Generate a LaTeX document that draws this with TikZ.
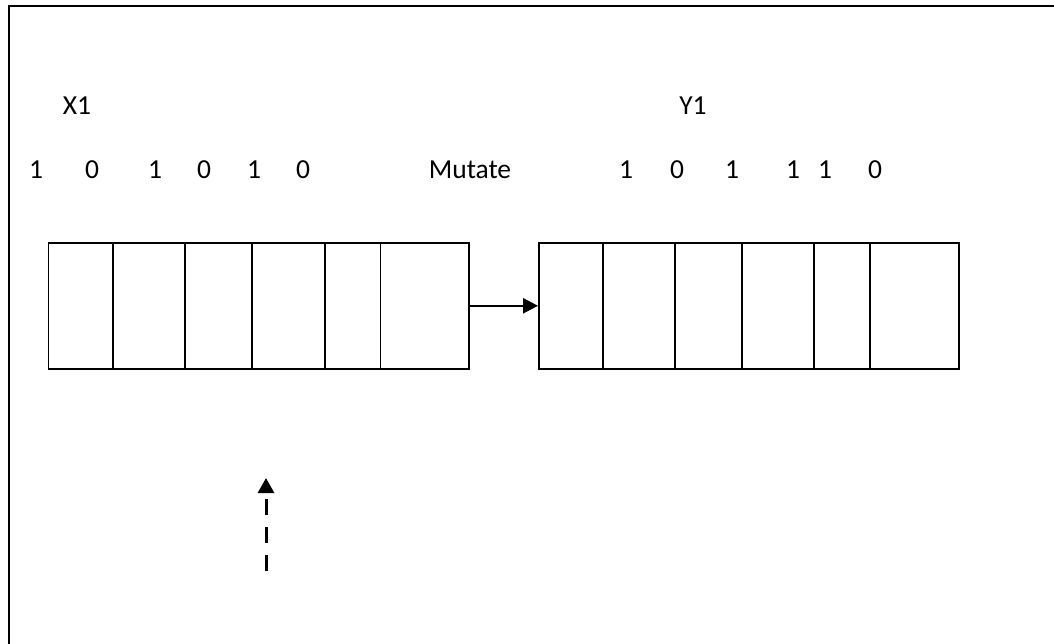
\documentclass[tikz,border=0pt]{standalone}
\usepackage{fontspec}
\setmainfont{Carlito}
\usetikzlibrary{arrows.meta}
\begin{document}
\begin{tikzpicture}[x=1pt,y=-1pt,
  cell/.style={draw, line width=1.6pt, minimum height=126pt, inner sep=0pt, anchor=north west},
  lbl/.style={anchor=base, inner sep=0pt, font=\fontsize{27.5}{32}\selectfont},
  frame/.style={draw, line width=1.6pt}]
\useasboundingbox (0,0) rectangle (1054,643);
\clip (0,0) rectangle (1054,643);
\fill[white] (0,0) rectangle (1054,643);
% outer frame, running off the right and bottom edges
\draw[frame] (9,6) rectangle (1070,660);

% labels
\node[lbl] (x1) at (77,114) {X1};
\node[lbl] (y1) at (693,114) {Y1};
\node[lbl] (mut) at (470,178) {Mutate};
\node[lbl] (xa) at (36,178) {1};
\node[lbl] (xb) at (92,178) {0};
\node[lbl] (xc) at (155,178) {1};
\node[lbl] (xd) at (204,178) {0};
\node[lbl] (xe) at (254,178) {1};
\node[lbl] (xf) at (303,178) {0};
\node[lbl] (ya) at (626,178) {1};
\node[lbl] (yb) at (677,178) {0};
\node[lbl] (yc) at (732,178) {1};
\node[lbl] (yd) at (793,178) {1};
\node[lbl] (ye) at (825,178) {1};
\node[lbl] (yf) at (875,178) {0};

% chromosome X1
\node[cell, minimum width=64.5pt] (a1) at (47.5,242) {};
\node[cell, minimum width=72pt]   (a2) at (112,242) {};
\node[cell, minimum width=67pt]   (a3) at (184,242) {};
\node[cell, minimum width=73pt]   (a4) at (251,242) {};
\node[cell, minimum width=55.5pt] (a5) at (324,242) {};
\node[cell, minimum width=88.5pt] (a6) at (379.5,242) {};

% chromosome Y1
\node[cell, minimum width=64pt] (b1) at (538,242) {};
\node[cell, minimum width=72pt] (b2) at (602,242) {};
\node[cell, minimum width=67pt] (b3) at (674,242) {};
\node[cell, minimum width=72pt] (b4) at (741,242) {};
\node[cell, minimum width=56pt] (b5) at (813,242) {};
\node[cell, minimum width=89pt] (b6) at (869,242) {};

% mutation arrow
\draw[line width=2.5pt, -{Triangle[length=15pt,width=15pt]}] (a6.east) -- (b1.west);

% dashed pointer to the mutated gene
\coordinate (pfoot) at (266,571);
\coordinate (ptip) at (266,478);
\draw[line width=3pt, dash pattern=on 16pt off 12pt, -{Triangle[length=15pt,width=16pt]}] (pfoot) -- (ptip);
\end{tikzpicture}
\end{document}
